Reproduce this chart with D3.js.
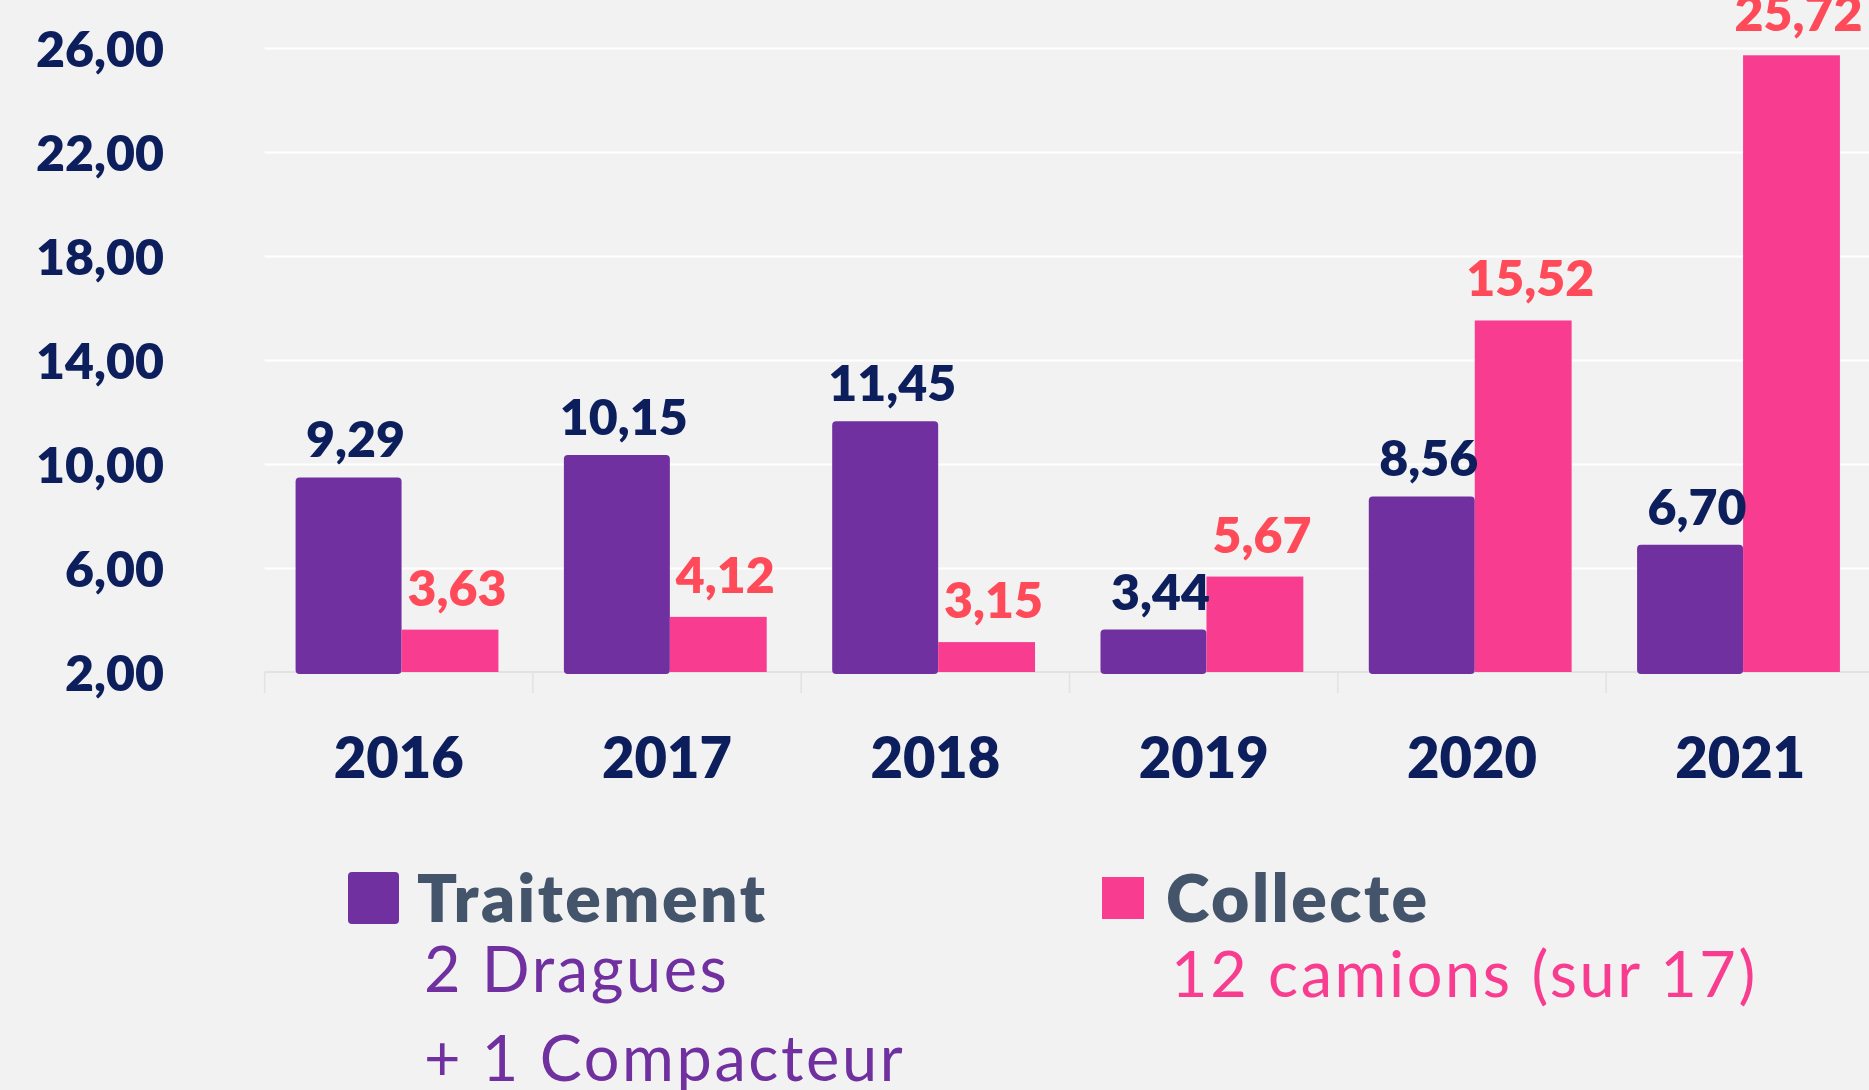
<!DOCTYPE html>
<meta charset="utf-8">
<html>
  <head>
    <title>Traitement / Collecte</title>
    <script src="https://d3js.org/d3.v7.min.js"></script>
    <style>
      body {
        margin: 0;
        background: #f2f2f2;
        font-family: Lato, "Open Sans", sans-serif;
      }
      svg { display: block; }
      .grid line { stroke: #ffffff; stroke-width: 2px; }
      .grid .domain { display: none; }
    </style>
  </head>
  <body>
    <svg id="chart" width="1869" height="1090"></svg>

    <script>
      // données
      const years = ["2016", "2017", "2018", "2019", "2020", "2021"];
      const traitement = [9.29, 10.15, 11.45, 3.44, 8.56, 6.70];
      const collecte = [3.63, 4.12, 3.15, 5.67, 15.52, 25.72];
      const yTicks = [2, 6, 10, 14, 18, 22, 26];
      const seriesNames = ["Traitement", "Collecte"];
      const legendNotes = [["2 Dragues", "+ 1 Compacteur"], ["12 camions (sur 17)"]];

      const width = 1869, height = 1090;
      const navy = "#0c1f5c";
      const purple = "#7030a0";
      const pink = "#f83d90";
      const heavy = 800;

      const svg = d3.select("#chart")
                    .attr("width", width)
                    .attr("height", height);

      svg.append("rect")
         .attr("width", width).attr("height", height)
         .attr("fill", "#f2f2f2");

      // l'axe x déborde un peu à droite, comme sur l'original
      const x = d3.scaleBand().domain(years).range([264.6, 1874.4]);
      const y = d3.scaleLinear().domain([2, 26]).range([672, 48]);
      const bw = x.bandwidth();

      const fmt = v => d3.format(".2f")(v).replace(".", ",");

      // grille
      svg.append("g")
         .attr("class", "grid")
         .attr("transform", `translate(${x.range()[0]},0)`)
         .call(d3.axisLeft(y)
                 .tickValues(yTicks.filter(t => t !== 2))
                 .tickSize(-(x.range()[1] - x.range()[0]))
                 .tickFormat(""));

      // ligne de base + séparateurs
      svg.append("line")
         .attr("x1", x.range()[0]).attr("x2", x.range()[1])
         .attr("y1", y(2)).attr("y2", y(2))
         .attr("stroke", "#dcdcdc").attr("stroke-width", 1.5);

      svg.append("g")
         .selectAll("line")
         .data(years.concat(["end"]))
         .join("line")
           .attr("x1", d => d === "end" ? x.range()[1] : x(d))
           .attr("x2", d => d === "end" ? x.range()[1] : x(d))
           .attr("y1", y(2)).attr("y2", y(2) + 21)
           .attr("stroke", "#e2e2e2").attr("stroke-width", 1.5);

      // axe y
      const yAxis = svg.append("g")
         .attr("transform", "translate(164,0)")
         .call(d3.axisLeft(y).tickValues(yTicks).tickSize(0).tickPadding(0).tickFormat(fmt));
      yAxis.select(".domain").remove();
      yAxis.selectAll("text")
           .attr("dy", "0.36em")
           .attr("fill", navy)
           .style("font-family", "Lato, sans-serif")
           .style("font-size", "50px")
           .style("font-weight", heavy);

      // axe x
      const xAxis = svg.append("g")
         .attr("transform", `translate(0,${y(2)})`)
         .call(d3.axisBottom(x).tickSize(0).tickPadding(0));
      xAxis.select(".domain").remove();
      xAxis.selectAll("text")
           .attr("y", 106)
           .attr("dy", 0)
           .attr("fill", navy)
           .style("font-family", "Lato, sans-serif")
           .style("font-size", "56px")
           .style("font-weight", heavy);

      // barres
      const tx = d => x(d) + bw * 0.1155;
      const tw = bw * 0.395;
      const cx = d => x(d) + bw * 0.5105;
      const cw = bw * 0.361;

      const rows = years.map((yr, i) => ({ yr, t: traitement[i], c: collecte[i] }));

      svg.append("g")
         .selectAll("rect")
         .data(rows)
         .join("rect")
           .attr("x", d => tx(d.yr))
           .attr("y", d => y(d.t) - 5)
           .attr("width", tw)
           .attr("height", d => y(2) + 2 - (y(d.t) - 5))
           .attr("rx", 4)
           .attr("fill", purple);

      svg.append("g")
         .selectAll("rect")
         .data(rows)
         .join("rect")
           .attr("x", d => cx(d.yr))
           .attr("y", d => y(d.c))
           .attr("width", cw)
           .attr("height", d => y(2) - y(d.c))
           .attr("fill", pink);

      // étiquettes
      svg.append("g")
         .selectAll("text")
         .data(rows)
         .join("text")
           .attr("x", d => tx(d.yr) + tw / 2 + 7)
           .attr("y", d => y(d.t) - 25)
           .attr("text-anchor", "middle")
           .attr("fill", navy)
           .style("font-size", "50px")
           .style("font-weight", heavy)
           .text(d => fmt(d.t));

      svg.append("g")
         .selectAll("text")
         .data(rows)
         .join("text")
           .attr("x", d => cx(d.yr) + cw / 2 + 7)
           .attr("y", d => y(d.c) - 24)
           .attr("text-anchor", "middle")
           .attr("fill", "#ff4a5a")
           .style("font-size", "50px")
           .style("font-weight", heavy)
           .text(d => fmt(d.c));

      // légende
      const legend = [
        { name: seriesNames[0], notes: legendNotes[0], color: purple, box: [348, 872, 51, 52], tx: 417, nx: 424, ny: 992 },
        { name: seriesNames[1], notes: legendNotes[1], color: pink, box: [1102, 877, 42, 42], tx: 1166, nx: 1171, ny: 997 }
      ];

      legend.forEach(l => {
        svg.append("rect")
           .attr("x", l.box[0]).attr("y", l.box[1])
           .attr("width", l.box[2]).attr("height", l.box[3])
           .attr("rx", l.color === purple ? 4 : 0)
           .attr("fill", l.color);
        svg.append("text")
           .attr("x", l.tx).attr("y", 922)
           .attr("fill", "#44546a")
           .style("font-size", "66px")
           .style("font-weight", heavy)
           .style("letter-spacing", "2.5px")
           .text(l.name);
        l.notes.forEach((n, j) => {
          svg.append("text")
             .attr("x", l.nx).attr("y", l.ny + j * 89)
             .attr("fill", l.color)
             .style("font-size", "63px")
             .style("letter-spacing", "2.6px")
             .text(n);
        });
      });
    </script>
  </body>
</html>
